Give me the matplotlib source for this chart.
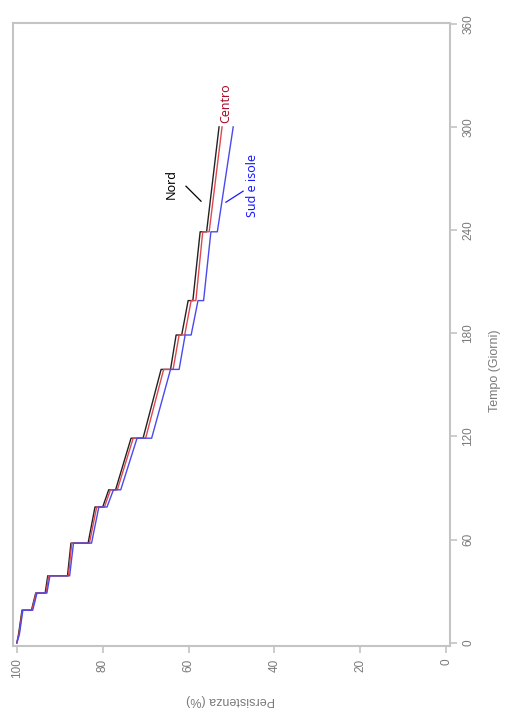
import matplotlib
matplotlib.use("Agg")
import matplotlib.pyplot as plt

# Persistenza (%) per area geografica: punti,
# i tempi ripetuti sono i gradini dei rinnovi di prescrizione
giorni = [0, 5, 19, 19, 29, 29, 39, 39, 58, 58, 79, 79, 89, 89, 119, 119,
          159, 159, 179, 179, 199, 199, 239, 239, 300]
nord = [100, 99.6, 98.8, 96.6, 95.6, 93.4, 92.8, 88.2, 87.4, 83.4, 81.8, 80.0,
        78.6, 77.0, 73.4, 70.6, 66.4, 64.2, 62.9, 61.6, 60.1, 59.0, 57.3, 55.8, 52.9]
centro = [100, 99.5, 98.7, 96.5, 95.5, 93.2, 92.6, 88.0, 87.2, 83.1, 81.4, 79.6,
          78.2, 76.6, 72.9, 70.0, 65.8, 63.6, 62.2, 60.9, 59.4, 58.3, 56.7, 55.2, 52.2]
sud = [100, 99.4, 98.6, 96.3, 95.3, 93.0, 92.3, 87.7, 86.8, 82.6, 80.9, 79.0,
       77.5, 75.8, 72.0, 68.6, 64.2, 62.2, 60.8, 59.4, 57.8, 56.5, 54.8, 53.3, 49.6]

tick_tempo = [0, 60, 120, 180, 240, 300, 360]
tick_pers = [0, 20, 40, 60, 80, 100]

grigio = "#c4c4c4"
testo = "#7a7a7a"

fig = plt.figure(figsize=(5.07, 7.13), dpi=100)
ax = fig.add_axes([0.0256, 0.094, 0.862, 0.874])

# grafico ruotato: persistenza in orizzontale, tempo in verticale
ax.plot(nord, giorni, color="#222222", lw=1.0)
ax.plot(centro, giorni, color="#e04850", lw=1.0)
ax.plot(sud, giorni, color="#4a4aee", lw=1.0)

ax.set_xlim(100.9, -0.9)
ax.set_ylim(-1.8, 360.5)

for s in ax.spines.values():
    s.set_color(grigio)
    s.set_linewidth(1.5)

ax.yaxis.tick_right()
ax.set_yticks(tick_tempo)
ax.set_xticks(tick_pers)
ax.set_yticklabels([str(t) for t in tick_tempo], rotation=90, va="center")
ax.set_xticklabels([str(p) for p in tick_pers], rotation=90, ha="center")
ax.tick_params(axis="both", colors=grigio, labelcolor=testo, length=5,
               width=1.2, labelsize=8.5, pad=4)
for lab in ax.get_xticklabels() + ax.get_yticklabels():
    lab.set_family("Liberation Sans")

fig.text(0.976, 0.48, "Tempo (Giorni)", rotation=90, ha="center", va="center",
         color=testo, fontsize=9, family="Liberation Sans")
fig.text(0.455, 0.018, "Persistenza (%)", rotation=180, ha="center", va="center",
         color=testo, fontsize=9, family="Liberation Sans")

# etichette delle curve
ax.text(51.4, 302, "Centro", rotation=90, ha="center", va="bottom",
        color="#a8102c", fontsize=9, family="Noto Sans")
ax.text(64.1, 267, "Nord", rotation=90, ha="center", va="center",
        color="black", fontsize=9, family="Noto Sans")
ax.plot([60.6, 57.1], [265.5, 256.8], color="black", lw=0.9)
ax.text(45.1, 266, "Sud e isole", rotation=90, ha="center", va="center",
        color="#1a1aff", fontsize=9, family="Noto Sans")
ax.plot([47.3, 51.3], [262.6, 256.2], color="#1a1aff", lw=0.9)

fig.savefig("out.png", dpi=100)
